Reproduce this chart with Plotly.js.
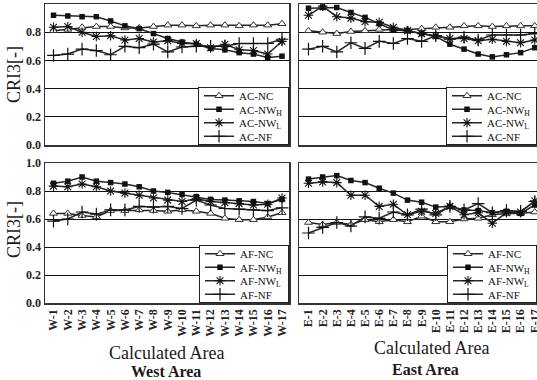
<!DOCTYPE html>
<html><head><meta charset="utf-8">
<script src="https://cdn.plot.ly/plotly-3.0.1.min.js"></script>
<style>html,body{margin:0;padding:0;background:#fff;overflow:hidden}</style>
</head><body><div id="chart" style="width:537px;height:380px"></div>
<script>
const westAreas = ['W-1','W-2','W-3','W-4','W-5','W-6','W-7','W-8','W-9','W-10','W-11','W-12','W-13','W-14','W-15','W-16','W-17'];
const eastAreas = ['E-1','E-2','E-3','E-4','E-5','E-6','E-7','E-8','E-9','E-10','E-11','E-12','E-13','E-14','E-15','E-16','E-17'];
const seriesKeys = ['NC','NW<sub>H</sub>','NW<sub>L</sub>','NF'];

const westAcNC  = [0.81,0.82,0.835,0.84,0.84,0.83,0.83,0.84,0.85,0.85,0.845,0.85,0.85,0.845,0.85,0.85,0.86];
const westAcNWH = [0.92,0.915,0.91,0.91,0.88,0.845,0.825,0.79,0.755,0.73,0.715,0.685,0.675,0.655,0.645,0.62,0.63];
const westAcNWL = [0.835,0.84,0.80,0.77,0.775,0.745,0.755,0.73,0.74,0.72,0.72,0.69,0.715,0.675,0.67,0.645,0.735];
const westAcNF  = [0.635,0.645,0.68,0.67,0.64,0.70,0.69,0.715,0.66,0.695,0.70,0.70,0.70,0.72,0.72,0.72,0.75];

const eastAcNC  = [0.81,0.80,0.79,0.805,0.81,0.82,0.82,0.82,0.825,0.835,0.835,0.845,0.845,0.84,0.845,0.845,0.845];
const eastAcNWH = [0.97,0.975,0.975,0.94,0.905,0.86,0.815,0.81,0.79,0.77,0.715,0.68,0.645,0.625,0.64,0.655,0.69];
const eastAcNWL = [0.92,0.985,0.91,0.90,0.875,0.87,0.835,0.81,0.79,0.775,0.755,0.755,0.74,0.75,0.735,0.725,0.745];
const eastAcNF  = [0.68,0.70,0.66,0.725,0.685,0.735,0.72,0.755,0.735,0.775,0.75,0.765,0.745,0.78,0.78,0.78,0.79];

const westAfNC  = [0.64,0.64,0.625,0.615,0.66,0.66,0.665,0.66,0.655,0.665,0.655,0.64,0.605,0.595,0.595,0.615,0.645];
const westAfNWH = [0.855,0.87,0.90,0.87,0.86,0.85,0.83,0.80,0.79,0.775,0.76,0.74,0.735,0.73,0.725,0.71,0.74];
const westAfNWL = [0.835,0.83,0.85,0.83,0.80,0.785,0.77,0.75,0.735,0.725,0.745,0.725,0.717,0.71,0.70,0.705,0.75];
const westAfNF  = [0.585,0.60,0.65,0.635,0.665,0.665,0.69,0.685,0.69,0.675,0.735,0.70,0.675,0.67,0.665,0.66,0.68];

const eastAfNC  = [0.575,0.56,0.575,0.56,0.595,0.58,0.595,0.58,0.62,0.58,0.58,0.60,0.605,0.63,0.64,0.64,0.65];
const eastAfNWH = [0.885,0.90,0.91,0.875,0.86,0.82,0.785,0.735,0.72,0.685,0.69,0.665,0.66,0.645,0.655,0.64,0.70];
const eastAfNWL = [0.855,0.865,0.86,0.77,0.77,0.69,0.705,0.63,0.655,0.64,0.69,0.63,0.645,0.57,0.645,0.65,0.73];
const eastAfNF  = [0.50,0.54,0.575,0.55,0.615,0.605,0.65,0.63,0.67,0.63,0.69,0.665,0.71,0.645,0.66,0.655,0.725];

const FONT = 'Liberation Serif';
const LINE = '#262626';
const markerStyles = [
  {symbol:'triangle-up', size:7, color:'#ffffff', line:{color:'#333', width:1}},
  {symbol:'square', size:5.5, color:'#111', line:{color:'#111', width:0}},
  {symbol:'asterisk-open', size:8, color:'#111', line:{color:'#111', width:1.1}},
  {symbol:'cross-thin-open', size:9, color:'#111', line:{color:'#111', width:1.2}}
];

function panel(prefix, cats, arrays, xa, ya, legend) {
  return arrays.map((ys, i) => ({
    type:'scatter', mode:'lines+markers',
    x: cats, y: ys, xaxis: xa, yaxis: ya, legend: legend,
    name: prefix + '-' + seriesKeys[i],
    line: {color: LINE, width: 1.5},
    marker: markerStyles[i]
  }));
}

const data = [].concat(
  panel('AC', westAreas, [westAcNC, westAcNWH, westAcNWL, westAcNF], 'x', 'y', 'legend'),
  panel('AC', eastAreas, [eastAcNC, eastAcNWH, eastAcNWL, eastAcNF], 'x2', 'y2', 'legend2'),
  panel('AF', westAreas, [westAfNC, westAfNWH, westAfNWL, westAfNF], 'x3', 'y3', 'legend3'),
  panel('AF', eastAreas, [eastAfNC, eastAfNWH, eastAfNWL, eastAfNF], 'x4', 'y4', 'legend4')
);

const W = 537, H = 380;
const leftDom = [45/W, 289/W], rightDom = [299/W, 1];
const topDom = [1-145/H, 1-4/H], botDom = [1-303/H, 1-163/H];
const westRange = [-0.595, 16.49], eastRange = [-0.672, 16.16];

function xax(dom, range, anchor, labels) {
  return {domain: dom, range: range, anchor: anchor, type:'category',
    showline:true, mirror:true, linecolor:'#333', linewidth:1.5,
    showgrid:false, zeroline:false, ticks:'', showticklabels: labels,
    tickangle:-90, tickfont:{family:FONT, size:12, color:'#222', weight:'bold'}};
}
function yax(dom, anchor, labels) {
  return {domain: dom, range:[0,1], anchor: anchor, dtick:0.2, tick0:0, tickformat:'.1f',
    showline:true, mirror:true, linecolor:'#333', linewidth:1.5,
    showgrid:true, gridcolor:'#111', gridwidth:1, zeroline:false, ticks:'',
    showticklabels: labels, tickfont:{family:FONT, size:12, color:'#222', weight:'bold'}};
}
function leg(x, y) {
  return {x:x, y:y, xanchor:'right', yanchor:'bottom', bgcolor:'#fff', bordercolor:'#222', borderwidth:1,
    font:{family:FONT, size:11, color:'#111'}, itemwidth:30, tracegroupgap:0};
}
function ann(text, px, py, size, angle) {
  return {text:text, x:px/W, y:1-py/H, xref:'paper', yref:'paper', xanchor:'center', yanchor:'middle',
    showarrow:false, textangle:angle || 0, font:{family:FONT, size:size, color:'#1a1a1a'}};
}

const layout = {
  width: W, height: H, autosize:false,
  margin:{l:0,r:0,t:0,b:0,pad:0},
  paper_bgcolor:'#fff', plot_bgcolor:'#fff',
  showlegend:true,
  font:{family:FONT},
  xaxis: xax(leftDom, westRange, 'y', false),
  yaxis: yax(topDom, 'x', true),
  xaxis2: xax(rightDom, eastRange, 'y2', false),
  yaxis2: yax(topDom, 'x2', false),
  xaxis3: xax(leftDom, westRange, 'y3', true),
  yaxis3: yax(botDom, 'x3', true),
  xaxis4: xax(rightDom, eastRange, 'y4', true),
  yaxis4: yax(botDom, 'x4', false),
  legend: leg(289/W, 1-145/H),
  legend2: leg(1, 1-145/H),
  legend3: leg(289/W, 1-303/H),
  legend4: leg(1, 1-303/H),
  annotations: [
    ann('CRI3[-]', 14, 75, 18, -90),
    ann('CRI3[-]', 14, 230, 18, -90),
    ann('Calculated Area', 166, 353, 18),
    ann('<b>West Area</b>', 166, 371, 16),
    ann('Calculated Area', 431, 348, 18),
    ann('<b>East Area</b>', 425, 369, 16)
  ]
};

// tighten the legend rows (Plotly's minimum row height is 19px; the figure uses ~13.5px)
function compressLegends() {
  const gd = document.getElementById('chart');
  const STEP = 13.5, PAD_TRIM = 4;
  gd.querySelectorAll('g.infolayer g').forEach(g => {
    const cls = g.getAttribute('class') || '';
    if (!/^legend\d*$/.test(cls)) return;
    const traces = Array.from(g.querySelectorAll('g.traces'));
    const n = traces.length;
    if (n < 2) return;
    const ys = traces.map(t => t.getCTM().f);
    const diff = (ys[1] - ys[0]) - STEP;
    if (diff <= 0.5) return;
    const y0 = ys[0] - diff / 2 - PAD_TRIM;
    traces.forEach((t, i) => {
      const d = (y0 + i * STEP) - ys[i];
      t.setAttribute('transform', (t.getAttribute('transform') || '') + ' translate(0,' + d + ')');
    });
    const shrink = diff * n + 2 * PAD_TRIM;
    const bg = g.querySelector('rect.bg');
    if (bg) bg.setAttribute('height', parseFloat(bg.getAttribute('height')) - shrink);
    g.setAttribute('transform', (g.getAttribute('transform') || '') + ' translate(0,' + shrink + ')');
  });
}

Plotly.newPlot('chart', data, layout, {staticPlot:true, displayModeBar:false}).then(gd => {
  compressLegends();
  if (gd.on) gd.on('plotly_afterplot', compressLegends);
});
</script></body></html>
